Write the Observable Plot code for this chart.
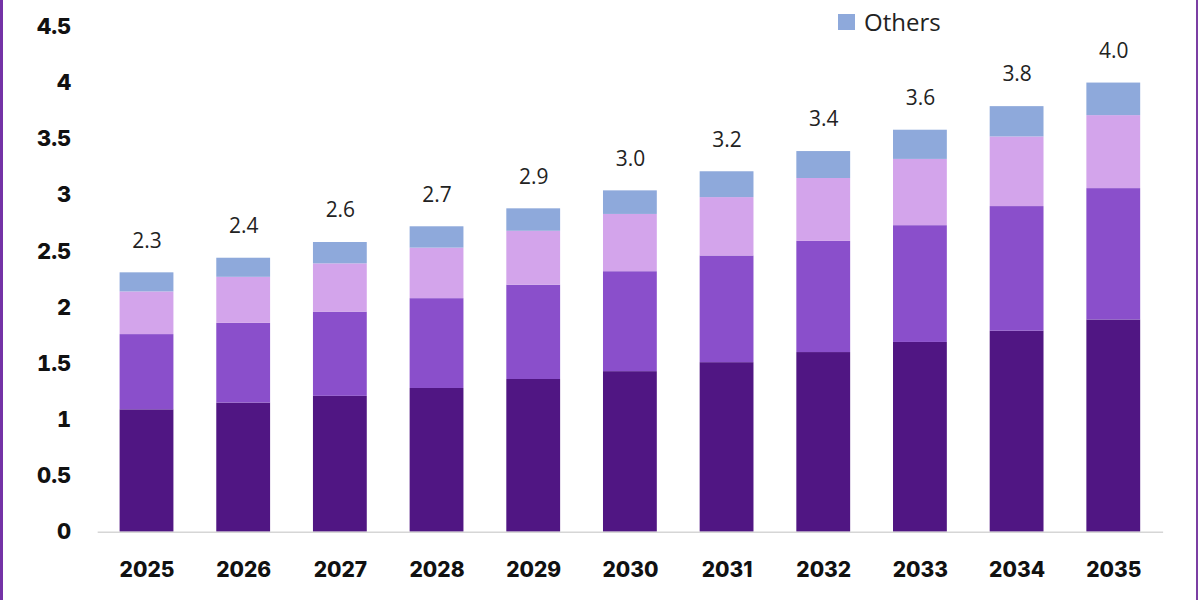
<!DOCTYPE html>
<html>
<head>
<meta charset="utf-8">
<script src="https://cdn.jsdelivr.net/npm/d3@7"></script>
<script src="https://cdn.jsdelivr.net/npm/@observablehq/plot@0.6"></script>
<style>
  html, body { margin: 0; padding: 0; background: #fff; }
  #wrap { position: relative; width: 1198px; height: 600px; box-sizing: border-box;
          border-left: 3px solid #7432A6; border-right: 2px solid #7B3FA3; overflow: hidden; }
  #chart { position: absolute; left: -3px; top: 0; }
  #legend { position: absolute; left: 835px; top: 5px; display: flex; align-items: center;
            font-family: "Open Sans", sans-serif; font-size: 24px; color: #222; }
  #legend .sw { width: 17px; height: 16px; background: #8EA9DB; margin-right: 9px; }
</style>
</head>
<body>
<div id="wrap">
  <div id="chart"></div>
  <div id="legend"><span class="sw"></span><span>Others</span></div>
</div>
<script>
const years = ["2025","2026","2027","2028","2029","2030","2031","2032","2033","2034","2035"];
const seriesNames = ["Segment 1","Segment 2","Segment 3","Others"];
const seriesColors = ["#501683","#8A4FCB","#D3A4EB","#8EA9DB"];
const segment1 = [1.09, 1.15, 1.21, 1.28, 1.36, 1.43, 1.51, 1.60, 1.69, 1.79, 1.89];
const segment2 = [0.67, 0.71, 0.75, 0.80, 0.84, 0.89, 0.95, 0.99, 1.04, 1.11, 1.17];
const segment3 = [0.38, 0.41, 0.43, 0.45, 0.48, 0.51, 0.52, 0.56, 0.59, 0.62, 0.65];
const others   = [0.17, 0.17, 0.19, 0.19, 0.20, 0.21, 0.23, 0.24, 0.26, 0.27, 0.29];
const totalLabels = ["2.3","2.4","2.6","2.7","2.9","3.0","3.2","3.4","3.6","3.8","4.0"];
const yTicks = [0, 0.5, 1, 1.5, 2, 2.5, 3, 3.5, 4, 4.5];

const seriesValues = [segment1, segment2, segment3, others];
const rows = [];
seriesNames.forEach((s, si) => years.forEach((y, i) => rows.push({year: y, series: s, value: seriesValues[si][i]})));
const totals = years.map((y, i) => ({year: y, total: seriesValues.reduce((a, arr) => a + arr[i], 0), label: totalLabels[i]}));

const chart = Plot.plot({
  width: 1200,
  height: 600,
  marginLeft: 98,
  marginRight: 33,
  marginTop: 26.5,
  marginBottom: 66.5,
  x: {type: "band", domain: years, paddingInner: 0.44, paddingOuter: 0.22, label: null},
  y: {domain: [0, 4.5], label: null},
  color: {domain: seriesNames, range: seriesColors},
  style: {background: "transparent", overflow: "visible"},
  marks: [
    Plot.barY(rows, {x: "year", y: "value", fill: "series", order: seriesNames,
      style: {filter: "drop-shadow(1.5px 1px 1.5px rgba(60,40,90,0.28))"}}),
    Plot.ruleY([0], {stroke: "#d6d6d6", strokeWidth: 1.5}),
    Plot.axisY(yTicks, {tickSize: 0, tickPadding: 27, fontSize: 22, fontWeight: 800,
      tickFormat: d => String(d),
      fontFamily: "Inter, sans-serif", fill: "#111", label: null}),
    Plot.axisX({tickSize: 0, tickPadding: 30, fontSize: 21, fontWeight: 800,
      fontFamily: "Inter, sans-serif", fill: "#111", label: null}),
    Plot.text(totals, {x: "year", y: "total", text: "label", dy: -32, fontSize: 21,
      fontFamily: "Open Sans, sans-serif", fill: "#222"})
  ]
});
document.getElementById("chart").appendChild(chart);
</script>
</body>
</html>
